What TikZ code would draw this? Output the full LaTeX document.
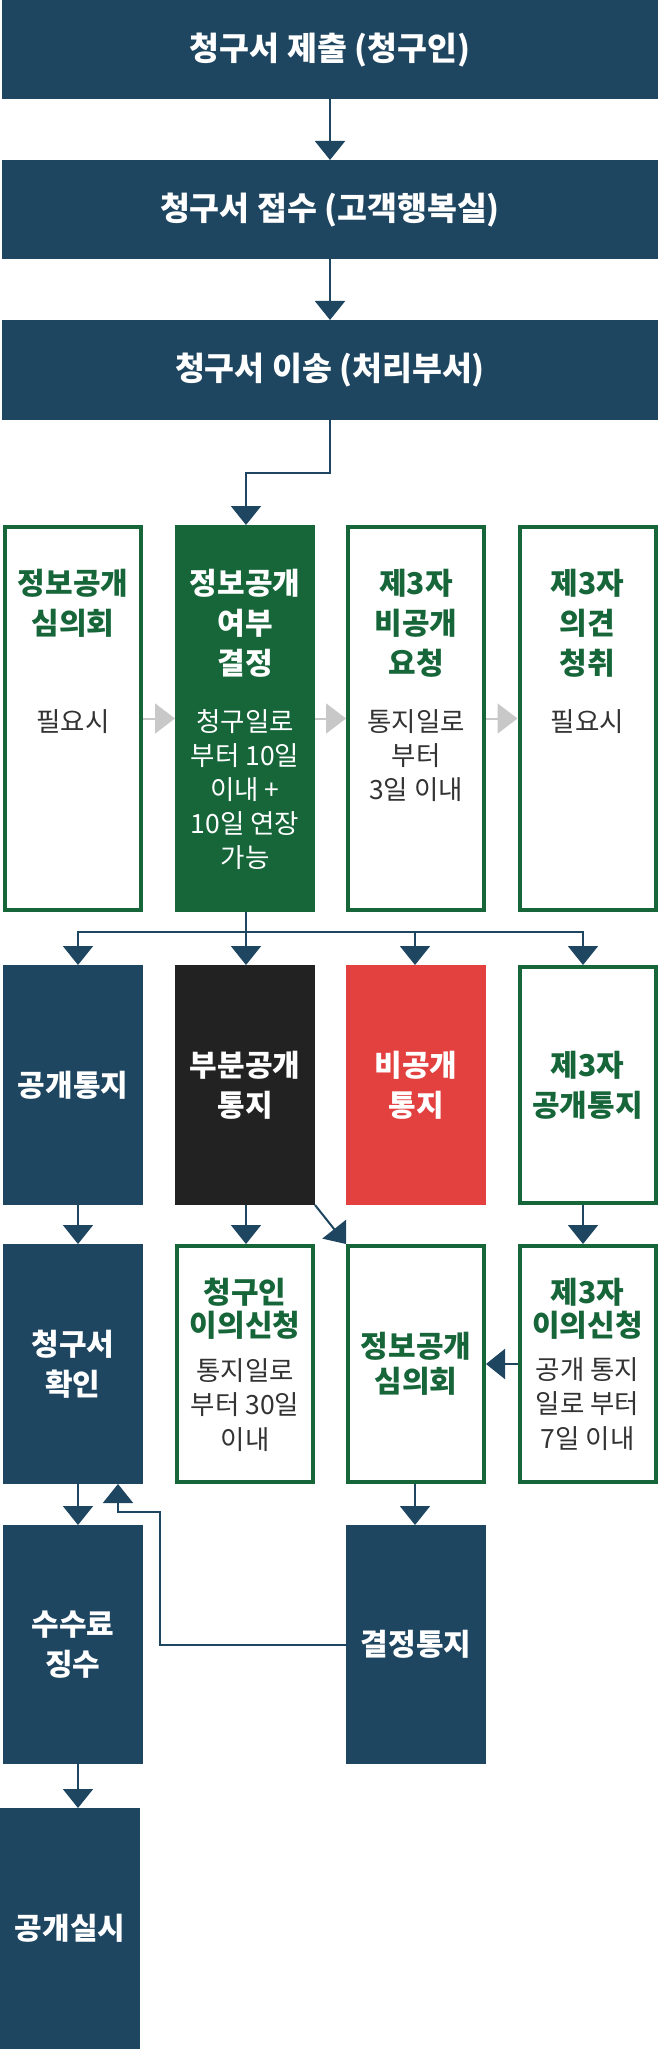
\documentclass[tikz,border=0pt]{standalone}
\usepackage{fontspec}
\setmainfont{Noto Sans CJK KR}
\usetikzlibrary{arrows.meta}
\definecolor{navy}{RGB}{31,70,97}
\definecolor{kgreen}{RGB}{22,102,58}
\definecolor{kred}{RGB}{227,64,64}
\definecolor{kblack}{RGB}{34,34,34}
\definecolor{kgray}{RGB}{200,200,200}
\definecolor{ktext}{RGB}{51,51,51}
\begin{document}
\begin{tikzpicture}[x=1pt,y=-1pt,
  filled/.style={rectangle, inner sep=0pt, outer sep=0pt, minimum width=140pt, fill=#1, text=white, align=center},
  framed/.style={rectangle, inner sep=0pt, draw=kgreen, line width=4pt, fill=white, minimum width=136pt, align=center},
  bigtitle/.style={font=\fontsize{32.5pt}{38pt}\selectfont\bfseries},
  ttl/.style={font=\fontsize{30pt}{40pt}\selectfont\bfseries, align=center},
  ttlb/.style={font=\fontsize{30pt}{33pt}\selectfont\bfseries, align=center},
  ttlc/.style={font=\fontsize{30pt}{34.5pt}\selectfont\bfseries, align=center},
  sub/.style={font=\fontsize{26.5pt}{34pt}\selectfont, align=center, text=ktext},
  subb/.style={font=\fontsize{26.5pt}{34.5pt}\selectfont, align=center, text=ktext},
  conn/.style={draw=navy, line width=2pt},
  arr/.style={conn, -{Triangle[length=19pt,width=30pt]}},
  garr/.style={draw=kgray, line width=2pt, -{Triangle[length=20pt,width=30pt]}},
]
\useasboundingbox (0,0) rectangle (658,2049);

% top boxes
\node[filled=navy, minimum width=656pt, minimum height=99.5pt, bigtitle] (b1) at (330,49.75) {청구서 제출 (청구인)};
\node[filled=navy, minimum width=656pt, minimum height=99.5pt, bigtitle] (b2) at (330,209.75) {청구서 접수 (고객행복실)};
\node[filled=navy, minimum width=656pt, minimum height=99.5pt, bigtitle] (b3) at (330,369.75) {청구서 이송 (처리부서)};

% row 1
\node[framed, minimum height=383pt] (r1a) at (73,718.5) {};
\node[filled=kgreen, minimum height=387pt] (r1b) at (245,718.5) {};
\node[framed, minimum height=383pt] (r1c) at (416,718.5) {};
\node[framed, minimum height=383pt] (r1d) at (587.5,718.5) {};
\node[ttl, text=kgreen] (t1a) at (73,603) {정보공개\\심의회};
\node[sub] (s1a) at (73,722) {필요시};
\node[ttl, text=white] (t1b) at (245,623) {정보공개\\여부\\결정};
\node[sub, text=white] (s1b) at (245,790) {청구일로\\부터 10일\\이내 +\\10일 연장\\가능};
\node[ttl, text=kgreen] (t1c) at (416,623) {제3자\\비공개\\요청};
\node[sub] (s1c) at (416,756) {통지일로\\부터\\3일 이내};
\node[ttl, text=kgreen] (t1d) at (587.5,623) {제3자\\의견\\청취};
\node[sub] (s1d) at (587.5,722) {필요시};

% row 2
\node[filled=navy, minimum height=240pt, ttl] (r2a) at (73,1085) {공개통지};
\node[filled=kblack, minimum height=240pt, ttl] (r2b) at (245,1085) {부분공개\\통지};
\node[filled=kred, minimum height=240pt, ttl] (r2c) at (416,1085) {비공개\\통지};
\node[framed, minimum height=236pt, ttl, text=kgreen] (r2d) at (587.5,1085) {제3자\\공개통지};

% row 3
\node[filled=navy, minimum height=240pt, ttl] (r3a) at (73,1364) {청구서\\확인};
\node[framed, minimum height=236pt] (r3b) at (245,1364) {};
\node[ttlb, text=kgreen] (t3b) at (245,1309) {청구인\\이의신청};
\node[subb] (s3b) at (245,1405) {통지일로\\부터 30일\\이내};
\node[framed, minimum height=236pt, ttlc, text=kgreen] (r3c) at (416,1364) {정보공개\\심의회};
\node[framed, minimum height=236pt] (r3d) at (587.5,1364) {};
\node[ttlb, text=kgreen] (t3d) at (587.5,1309) {제3자\\이의신청};
\node[subb] (s3d) at (587.5,1404) {공개 통지\\일로 부터\\7일 이내};

% row 4
\node[filled=navy, minimum height=239pt, ttl] (r4a) at (73,1644.5) {수수료\\징수};
\node[filled=navy, minimum height=239pt, ttl] (r4c) at (416,1644.5) {결정통지};

% row 5
\node[filled=navy, minimum height=241pt, ttl] (r5a) at (70,1928.5) {공개실시};

% connectors
\draw[arr] (b1.south) -- (b2.north);
\draw[arr] (b2.south) -- (b3.north);
\draw[arr] (b3.south) -- ++(0,53.5) -| ([xshift=1pt]r1b.north);

\draw[garr] (r1a.east) -- (r1b.west);
\draw[garr] (r1b.east) -- (r1c.west);
\draw[garr] (r1c.east) -- (r1d.west);

\coordinate (hub) at (246,932);
\draw[conn] ([xshift=1pt]r1b.south) -- (hub);
\draw[arr] (hub) -| ([xshift=5pt]r2a.north);
\draw[arr] (hub) -- (hub |- r2b.north);
\draw[arr] (hub) -| ([xshift=-1pt]r2c.north);
\draw[arr] (hub) -| ([xshift=-4.5pt]r2d.north);

\draw[arr] ([xshift=5pt]r2a.south) -- ([xshift=5pt]r3a.north);
\draw[arr] ([xshift=1pt]r2b.south) -- ([xshift=1pt]r3b.north);
\draw[arr] (r2b.south east) -- (r3c.north west);
\draw[arr] ([xshift=-4.5pt]r2d.south) -- ([xshift=-4.5pt]r3d.north);
\draw[arr] (r3d.west) -- (r3c.east);

\draw[arr] ([xshift=5pt]r3a.south) -- ([xshift=5pt]r4a.north);
\draw[arr] ([xshift=-1pt]r3c.south) -- ([xshift=-1pt]r4c.north);
\coordinate (bend) at (160,1512);
\draw[arr] (r4c.west) -| (bend) -| ([xshift=45pt]r3a.south);

\draw[arr] ([xshift=5pt]r4a.south) -- ([xshift=5pt]r4a.south |- r5a.north);
\end{tikzpicture}
\end{document}
